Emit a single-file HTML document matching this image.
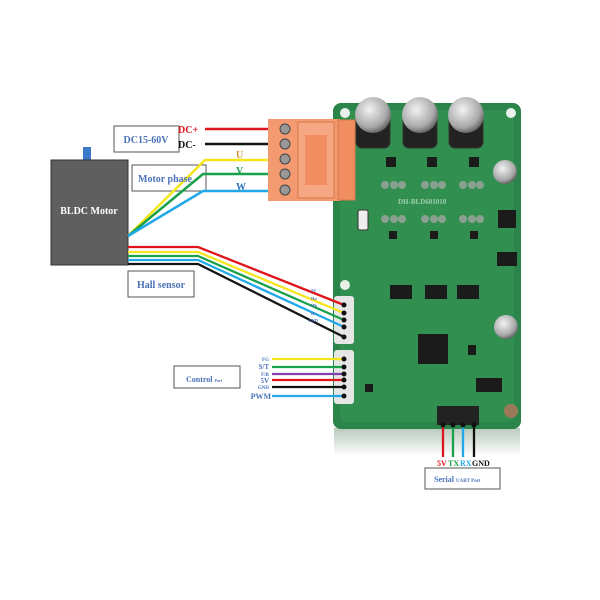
<!DOCTYPE html>
<html><head><meta charset="utf-8"><style>
html,body{margin:0;padding:0;background:#fff;width:600px;height:600px;overflow:hidden}
svg{display:block}
text{font-family:"Liberation Serif",serif;font-weight:bold}
</style></head><body>
<svg width="600" height="600" viewBox="0 0 600 600" xmlns="http://www.w3.org/2000/svg">
<defs>
<linearGradient id="refl" x1="0" y1="0" x2="0" y2="1"><stop offset="0" stop-color="#b9c9bd"/><stop offset="1" stop-color="#fff"/></linearGradient>
<radialGradient id="cap" cx="0.4" cy="0.35" r="0.7"><stop offset="0" stop-color="#f2f2f2"/><stop offset="0.7" stop-color="#a8a8a8"/><stop offset="1" stop-color="#555"/></radialGradient>
</defs>
<rect x="334" y="428" width="186" height="28" fill="url(#refl)"/>
<rect x="333" y="103" width="188" height="326" rx="8" fill="#2b8449"/>
<rect x="340" y="110" width="174" height="312" rx="6" fill="#31904f"/>
<circle cx="345" cy="113" r="5" fill="#e8f0ea"/><circle cx="511" cy="113" r="5" fill="#e8f0ea"/>
<circle cx="345" cy="285" r="5" fill="#e8f0ea"/><circle cx="511" cy="411" r="7" fill="#9b7a5a"/>
<g stroke="#333" stroke-width="1">
<rect x="356" y="115" width="34" height="33" rx="6" fill="#222"/>
<rect x="403" y="115" width="34" height="33" rx="6" fill="#222"/>
<rect x="449" y="115" width="34" height="33" rx="6" fill="#222"/>
</g>
<circle cx="373" cy="115" r="18" fill="url(#cap)"/>
<circle cx="420" cy="115" r="18" fill="url(#cap)"/>
<circle cx="466" cy="115" r="18" fill="url(#cap)"/>
<circle cx="505" cy="172" r="12" fill="url(#cap)"/>
<circle cx="506" cy="327" r="12" fill="url(#cap)"/>
<g fill="#1b1b1b">
<rect x="390" y="285" width="22" height="14"/><rect x="425" y="285" width="22" height="14"/><rect x="457" y="285" width="22" height="14"/>
<rect x="418" y="334" width="30" height="30"/>
<rect x="498" y="210" width="18" height="18"/><rect x="497" y="252" width="20" height="14"/>
<rect x="476" y="378" width="26" height="14"/>
<rect x="386" y="157" width="10" height="10"/><rect x="427" y="157" width="10" height="10"/><rect x="469" y="157" width="10" height="10"/>
<rect x="389" y="231" width="8" height="8"/><rect x="430" y="231" width="8" height="8"/><rect x="470" y="231" width="8" height="8"/>
<rect x="365" y="384" width="8" height="8"/><rect x="468" y="345" width="8" height="10"/>
</g>
<g fill="#8aa090">
<circle cx="385" cy="185" r="4"/><circle cx="394" cy="185" r="4"/><circle cx="402" cy="185" r="4"/>
<circle cx="425" cy="185" r="4"/><circle cx="434" cy="185" r="4"/><circle cx="442" cy="185" r="4"/>
<circle cx="463" cy="185" r="4"/><circle cx="472" cy="185" r="4"/><circle cx="480" cy="185" r="4"/>
<circle cx="385" cy="219" r="4"/><circle cx="394" cy="219" r="4"/><circle cx="402" cy="219" r="4"/>
<circle cx="425" cy="219" r="4"/><circle cx="434" cy="219" r="4"/><circle cx="442" cy="219" r="4"/>
<circle cx="463" cy="219" r="4"/><circle cx="472" cy="219" r="4"/><circle cx="480" cy="219" r="4"/>
</g>
<rect x="358" y="210" width="10" height="20" rx="2" fill="#eee" stroke="#333"/>
<text x="398" y="204" font-size="7" fill="#9fd0ad" font-weight="normal">DH-BLD601010</text>
<rect x="334" y="296" width="20" height="48" rx="3" fill="#e6e6e6"/>
<rect x="334" y="350" width="20" height="54" rx="3" fill="#e6e6e6"/>
<rect x="437" y="406" width="42" height="19" fill="#222"/>
<rect x="83" y="147" width="8" height="14" fill="#3c78c8"/>
<rect x="51" y="160" width="77" height="105" fill="#5f5f5f" stroke="#333"/>
<text x="89" y="214" font-size="10" fill="#fff" text-anchor="middle">BLDC Motor</text>
<rect x="114" y="126" width="65" height="26" fill="#fff" stroke="#555"/>
<text x="146" y="143" font-size="10" fill="#4a72b8" text-anchor="middle">DC15-60V</text>
<rect x="132" y="165" width="74" height="26" fill="#fff" stroke="#555"/>
<rect x="128" y="271" width="66" height="26" fill="#fff" stroke="#555"/>
<text x="161" y="288" font-size="10" fill="#4a72b8" text-anchor="middle">Hall sensor</text>
<rect x="174" y="366" width="66" height="22" fill="#fff" stroke="#555"/>
<text x="186" y="382" font-size="8" fill="#4a72b8">Control <tspan font-size="4">Port</tspan></text>
<rect x="425" y="468" width="75" height="21" fill="#fff" stroke="#555"/>
<text x="434" y="482" font-size="8" fill="#4a72b8">Serial <tspan font-size="5">UART Port</tspan></text>
<g fill="none" stroke-width="2.5">
<polyline points="128,236 205,160 281,160" stroke="#f5e51a"/>
<polyline points="128,236 203,174 281,174" stroke="#19a04a"/>
<polyline points="128,236 203,191 281,191" stroke="#20a8e8"/>
<line x1="205" y1="129" x2="281" y2="129" stroke="#e0141c"/>
<line x1="205" y1="144" x2="281" y2="144" stroke="#111"/>
</g>
<text x="138" y="182" font-size="10" fill="#4a72b8">Motor phase</text>
<text x="178" y="133" font-size="10" fill="#e0141c">DC+</text>
<text x="178" y="148" font-size="10" fill="#111">DC-</text>
<text x="236" y="158" font-size="10" fill="#d89a30">U</text>
<text x="236" y="174" font-size="10" fill="#19a04a">V</text>
<text x="236" y="190" font-size="10" fill="#2a6fc0">W</text>
<rect x="268" y="119" width="72" height="82" fill="#f39a70"/>
<rect x="298" y="122" width="36" height="76" fill="#f5a882" stroke="#d8784a"/>
<rect x="305" y="135" width="22" height="50" fill="#f08e62"/>
<rect x="338" y="120" width="17" height="80" fill="#f08e62" stroke="#d8784a"/>
<g fill="#999" stroke="#444"><circle cx="285" cy="129" r="5"/><circle cx="285" cy="144" r="5"/><circle cx="285" cy="159" r="5"/><circle cx="285" cy="174" r="5"/><circle cx="285" cy="190" r="5"/></g>
<g fill="none" stroke-width="2.3">
<polyline points="128,247 198,247 344,305" stroke="#e0141c"/>
<polyline points="128,252 198,252 344,313" stroke="#f5e51a"/>
<polyline points="128,256 198,256 344,320" stroke="#19a04a"/>
<polyline points="128,260 198,260 344,327" stroke="#20a8e8"/>
<polyline points="128,264 198,264 344,337" stroke="#111"/>
</g>
<g font-size="4.5" fill="#4a72b8"><text x="311" y="292">5V</text><text x="311" y="300">Ha</text><text x="311" y="307">Hb</text><text x="311" y="315">Hc</text><text x="308" y="322">GND</text></g>
<g stroke-width="2.3">
<line x1="272" y1="359" x2="344" y2="359" stroke="#f5e51a"/>
<line x1="272" y1="367" x2="344" y2="367" stroke="#19a04a"/>
<line x1="272" y1="374" x2="344" y2="374" stroke="#8040b0"/>
<line x1="272" y1="380" x2="344" y2="380" stroke="#e0141c"/>
<line x1="272" y1="387" x2="344" y2="387" stroke="#111"/>
<line x1="272" y1="396" x2="344" y2="396" stroke="#20a8e8"/>
</g>
<g fill="#4a72b8" text-anchor="end"><text x="269" y="361" font-size="5">FG</text><text x="269" y="369" font-size="7">S/T</text><text x="269" y="376" font-size="5">F/R</text><text x="269" y="383" font-size="7">5V</text><text x="269" y="389" font-size="5">GND</text><text x="271" y="399" font-size="8">PWM</text></g>
<g fill="#111"><circle cx="344" cy="305" r="2.5"/><circle cx="344" cy="313" r="2.5"/><circle cx="344" cy="320" r="2.5"/><circle cx="344" cy="327" r="2.5"/><circle cx="344" cy="337" r="2.5"/>
<circle cx="344" cy="359" r="2.5"/><circle cx="344" cy="367" r="2.5"/><circle cx="344" cy="374" r="2.5"/><circle cx="344" cy="380" r="2.5"/><circle cx="344" cy="387" r="2.5"/><circle cx="344" cy="396" r="2.5"/></g>
<g stroke-width="2.3">
<line x1="443" y1="425" x2="443" y2="457" stroke="#e0141c"/>
<line x1="453" y1="425" x2="453" y2="457" stroke="#19a04a"/>
<line x1="463" y1="425" x2="463" y2="457" stroke="#20a8e8"/>
<line x1="474" y1="425" x2="474" y2="457" stroke="#111"/>
</g>
<g fill="#111"><circle cx="443" cy="425" r="2.5"/><circle cx="453" cy="425" r="2.5"/><circle cx="463" cy="425" r="2.5"/><circle cx="474" cy="425" r="2.5"/></g>
<g font-size="8"><text x="437" y="466" fill="#e0141c">5V</text><text x="448" y="466" fill="#19a04a">TX</text><text x="460" y="466" fill="#20a8e8">RX</text><text x="472" y="466" fill="#111">GND</text></g>
</svg>
</body></html>
